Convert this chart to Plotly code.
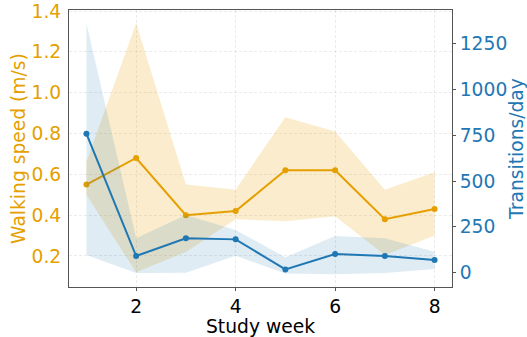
import plotly.graph_objects as go

# Weekly summary: mean with lower/upper band per study week
weeks = [1, 2, 3, 4, 5, 6, 7, 8]

speed_mean = [0.55, 0.68, 0.40, 0.42, 0.62, 0.62, 0.38, 0.43]
speed_low = [0.50, 0.12, 0.22, 0.38, 0.37, 0.395, 0.205, 0.30]
speed_high = [0.66, 1.34, 0.55, 0.525, 0.88, 0.81, 0.525, 0.61]

trans_mean = [759, 91, 188, 182, 18, 102, 91, 69]
trans_low = [97, -2, 0, 92, -4, -9, -2, 20]
trans_high = [1361, 188, 315, 233, 84, 200, 188, 115]

speed_ticks = [0.2, 0.4, 0.6, 0.8, 1.0, 1.2, 1.4]
trans_ticks = [0, 250, 500, 750, 1000, 1250]
week_ticks = [2, 4, 6, 8]

ORANGE = "#E69F00"
BLUE = "#1f77b4"
ORANGE_FILL = "rgba(230,159,0,0.2)"
BLUE_FILL = "rgba(31,119,180,0.14)"
FONT = "DejaVu Sans"
FS = 18.7

fig = go.Figure()

# walking speed band + line (left axis)
fig.add_trace(go.Scatter(x=weeks, y=speed_low, mode="lines", line=dict(width=0),
                         hoverinfo="skip", showlegend=False, yaxis="y"))
fig.add_trace(go.Scatter(x=weeks, y=speed_high, mode="lines", line=dict(width=0),
                         fill="tonexty", fillcolor=ORANGE_FILL,
                         hoverinfo="skip", showlegend=False, yaxis="y"))
fig.add_trace(go.Scatter(x=weeks, y=speed_mean, mode="lines+markers",
                         line=dict(color=ORANGE, width=2),
                         marker=dict(color=ORANGE, size=6),
                         showlegend=False, yaxis="y"))

# transitions band + line (right axis)
fig.add_trace(go.Scatter(x=weeks, y=trans_low, mode="lines", line=dict(width=0),
                         hoverinfo="skip", showlegend=False, yaxis="y2"))
fig.add_trace(go.Scatter(x=weeks, y=trans_high, mode="lines", line=dict(width=0),
                         fill="tonexty", fillcolor=BLUE_FILL,
                         hoverinfo="skip", showlegend=False, yaxis="y2"))
fig.add_trace(go.Scatter(x=weeks, y=trans_mean, mode="lines+markers",
                         line=dict(color=BLUE, width=2),
                         marker=dict(color=BLUE, size=6),
                         showlegend=False, yaxis="y2"))

grid = dict(showgrid=True, gridcolor="rgba(0,0,0,0.08)", griddash="3px,2px", gridwidth=1)

fig.update_layout(
    width=527, height=337,
    margin=dict(l=69, r=75, t=10, b=50),
    paper_bgcolor="white", plot_bgcolor="white",
    font=dict(family=FONT, size=FS, color="black"),
    xaxis=dict(
        range=[0.65, 8.35], tickvals=week_ticks, ticktext=[str(v) for v in week_ticks],
        ticks="outside", ticklen=3, tickcolor="#555", showline=True, linecolor="#555",
        linewidth=1, mirror=True, zeroline=False, automargin=False,
        title=dict(text="Study week", standoff=1, font=dict(size=FS)),
        tickfont=dict(size=FS, color="black"), **grid,
    ),
    yaxis=dict(
        range=[0.048, 1.405], tickvals=speed_ticks,
        ticktext=[f"{v:.1f}" for v in speed_ticks],
        ticks="outside", ticklen=3, tickcolor="rgba(0,0,0,0)",
        showline=True, linecolor="#555", linewidth=1, zeroline=False, automargin=False,
        title=dict(text="Walking speed (m/s)", standoff=0, font=dict(size=FS, color=ORANGE)),
        tickfont=dict(size=FS, color=ORANGE), **grid,
    ),
    yaxis2=dict(
        range=[-78, 1434], tickvals=trans_ticks, ticktext=[str(v) for v in trans_ticks],
        overlaying="y", side="right", showgrid=False, zeroline=False, automargin=False,
        ticks="outside", ticklen=3, tickcolor="#555",
        showline=True, linecolor="#555", linewidth=1,
        title=dict(text="Transitions/day", standoff=4, font=dict(size=FS, color=BLUE)),
        tickfont=dict(size=FS, color=BLUE),
    ),
)

fig.write_html("out.html")
